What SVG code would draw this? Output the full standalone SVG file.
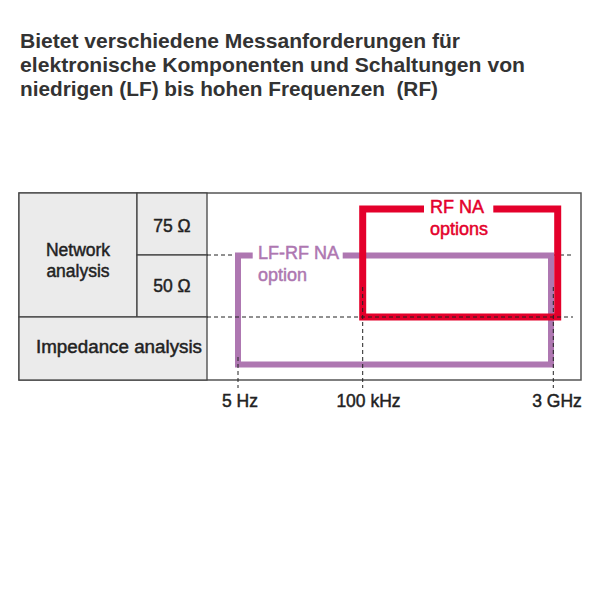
<svg xmlns="http://www.w3.org/2000/svg" width="600" height="600" viewBox="0 0 600 600">
<style>
.title{font-family:"Liberation Sans",Arial,sans-serif;font-weight:bold;font-size:20.5px;fill:#333;white-space:pre}
.lbl{font-family:"Liberation Sans",Arial,sans-serif;font-size:17.5px;fill:#222;stroke:#222;stroke-width:0.45}
.tick{font-family:"Liberation Sans",Arial,sans-serif;font-size:17.5px;fill:#222;stroke:#222;stroke-width:0.45}
.cell{fill:#ebebeb;stroke:#444;stroke-width:1.3}
.dash{stroke:#222;stroke-width:1;stroke-dasharray:4 3;fill:none}
.purple{fill:none;stroke:#ae77b1;stroke-width:6}
.red{fill:none;stroke:#e4002b;stroke-width:7}
.ptxt{font-family:"Liberation Sans",Arial,sans-serif;font-size:18px;fill:#ae77b1;stroke:#ae77b1;stroke-width:0.5}
.rtxt{font-family:"Liberation Sans",Arial,sans-serif;font-size:18px;fill:#e4002b;stroke:#e4002b;stroke-width:0.5}
</style>
<g id="title">
<text class="title" x="20" y="48" textLength="440" lengthAdjust="spacingAndGlyphs">Bietet verschiedene Messanforderungen für</text>
<text class="title" x="20" y="72" textLength="505" lengthAdjust="spacingAndGlyphs">elektronische Komponenten und Schaltungen von</text>
<text class="title" x="20" y="96" textLength="418" lengthAdjust="spacingAndGlyphs">niedrigen (LF) bis hohen Frequenzen  (RF)</text>
</g>
<g id="table">
<rect x="19" y="193" width="562" height="187" fill="#fff" stroke="#555" stroke-width="1.5"/>
<rect class="cell" x="19" y="193" width="118" height="124"/>
<rect class="cell" x="137" y="193" width="70" height="62"/>
<rect class="cell" x="137" y="255" width="70" height="62"/>
<rect class="cell" x="19" y="317" width="188" height="63"/>
<text class="lbl" x="78" y="256" text-anchor="middle">Network</text>
<text class="lbl" x="78" y="277" text-anchor="middle">analysis</text>
<text class="lbl" x="172" y="232" text-anchor="middle">75 Ω</text>
<text class="lbl" x="172" y="292" text-anchor="middle">50 Ω</text>
<text class="lbl" x="36" y="353" textLength="166" lengthAdjust="spacingAndGlyphs">Impedance analysis</text>
</g>
<g id="connectors">
<line class="dash" x1="207" y1="255" x2="252" y2="255"/>
<line class="dash" x1="343" y1="255" x2="573" y2="255"/>
</g>
<g id="lf-rf-na">
<path class="purple" d="M252.7 255.5 H238 V364.5 H551 V255.5 H342.7"/>
<text class="ptxt" x="258" y="259">LF-RF NA</text>
<text class="ptxt" x="258" y="281">option</text>
</g>
<g id="rf-na">
<path class="red" d="M424 209 H362.7 V317 H557.7 V209 H493.3"/>
<text class="rtxt" x="430" y="213">RF NA</text>
<text class="rtxt" x="430" y="235">options</text>
</g>
<g id="ticks">
<line class="dash" x1="207" y1="317" x2="573" y2="317"/>
<line class="dash" x1="238" y1="357" x2="238" y2="388"/>
<line class="dash" x1="362.7" y1="287" x2="362.7" y2="388"/>
<line class="dash" x1="553.3" y1="287" x2="553.3" y2="388"/>
<text class="tick" x="240" y="407" text-anchor="middle">5 Hz</text>
<text class="tick" x="368.5" y="407" text-anchor="middle">100 kHz</text>
<text class="tick" x="557" y="407" text-anchor="middle">3 GHz</text>
</g>
</svg>
